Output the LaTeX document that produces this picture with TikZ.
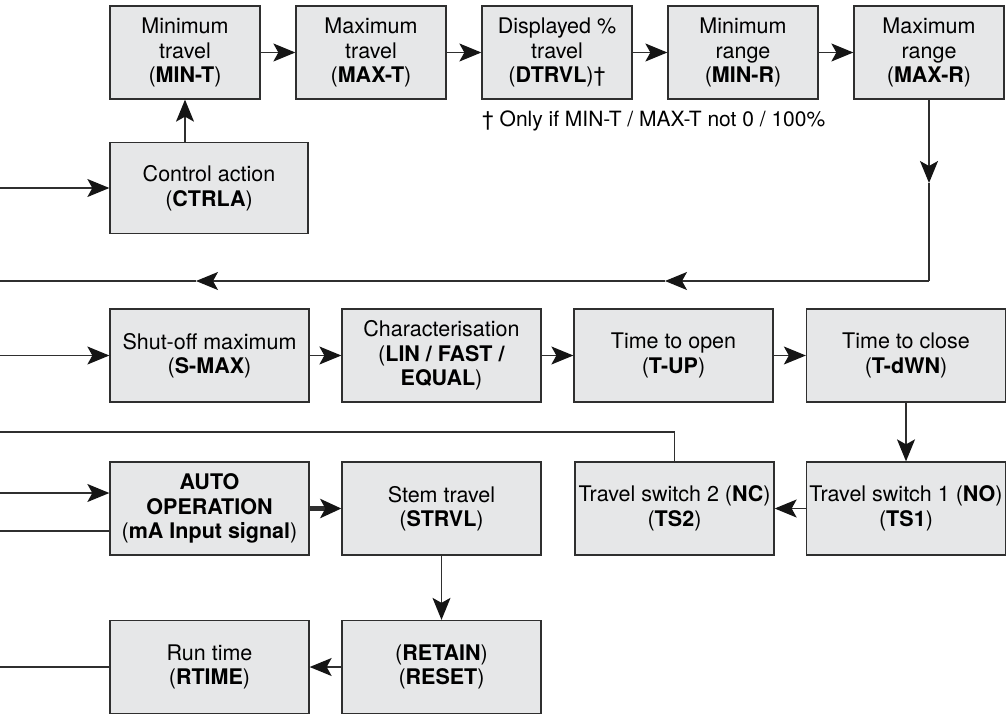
\documentclass[tikz,border=0pt]{standalone}
\usepackage{fontspec}
\setmainfont{TeX Gyre Heros}
\usetikzlibrary{arrows.meta}
\definecolor{boxfill}{HTML}{E6E7E8}
\definecolor{linec}{HTML}{2F2F2F}
\definecolor{headc}{HTML}{151515}
\begin{document}
\begin{tikzpicture}[x=1pt,y=-1pt,
  ln/.style={draw=linec, line width=1.3pt},
  base/.style={draw=linec, fill=boxfill, line width=1.3pt, align=center, inner sep=0pt,
    font=\fontsize{21.5}{24.5}\selectfont, minimum height=93pt},
  sbox/.style={base, minimum width=150pt},
  wbox/.style={base, minimum width=199pt},
  arr/.style={ln, -{Stealth[length=22pt,width=18pt,inset=5pt,headc]}},
  thick arr/.style={draw=linec, line width=4.5pt, -{Stealth[length=21pt,width=19pt,inset=5pt,headc]}}]
\useasboundingbox (0,0) rectangle (1008,715);

% top row
\node[sbox] (mint) at (185,52.5) {Minimum\\travel\\(\textbf{MIN-T})};
\node[sbox] (maxt) at (371,52.5) {Maximum\\travel\\(\textbf{MAX-T})};
\node[sbox] (dtrvl) at (557,52.5) {Displayed \%\\travel\\(\textbf{DTRVL})\textdagger};
\node[sbox] (minr) at (743,52.5) {Minimum\\range\\(\textbf{MIN-R})};
\node[sbox] (maxr) at (929,52.5) {Maximum\\range\\(\textbf{MAX-R})};
\node[anchor=west, inner sep=0pt, font=\fontsize{21}{24.5}\selectfont] (fn) at (482,121)
  {\textdagger{} Only if MIN-T / MAX-T not 0 / 100\%};

\node[wbox, minimum width=198pt, minimum height=91pt] (ctrla) at (209,188) {Control action\\(\textbf{CTRLA})};

% row 2
\node[wbox] (smax) at (209.5,355.5) {Shut-off maximum\\(\textbf{S-MAX})};
\node[wbox] (char) at (441.5,355.5) {Characterisation\\(\textbf{LIN / FAST /}\\\textbf{EQUAL})};
\node[wbox] (tup) at (673.5,355.5) {Time to open\\(\textbf{T-UP})};
\node[wbox] (tdwn) at (906,355.5) {Time to close\\(\textbf{T-dWN})};

% row 3
\node[wbox] (auto) at (209.5,508.5) {\textbf{AUTO}\\\textbf{OPERATION}\\(\textbf{mA Input signal})};
\node[wbox] (strvl) at (441.5,508.5) {Stem travel\\(\textbf{STRVL})};
\node[wbox] (ts2) at (674.5,508.5) {Travel switch 2 (\textbf{NC})\\(\textbf{TS2})};
\node[wbox] (ts1) at (906,508.5) {Travel switch 1 (\textbf{NO})\\(\textbf{TS1})};

% row 4
\node[wbox] (rtime) at (209.5,667) {Run time\\(\textbf{RTIME})};
\node[wbox] (retain) at (441.5,667) {(\textbf{RETAIN})\\(\textbf{RESET})};

% coordinates
\coordinate (a1) at (929,183);
\coordinate (c1) at (929,281);
\coordinate (m1) at (665,281);
\coordinate (m2) at (196,281);
\coordinate (e1) at (0,281);
\coordinate (l1) at (0,188);
\coordinate (l2) at (0,355.5);
\coordinate (l3) at (0,493);
\coordinate (l4) at (0,531);
\coordinate (l5) at (0,432);
\coordinate (l6) at (0,667);

% connectors
\draw[arr] (mint) -- (maxt);
\draw[arr] (maxt) -- (dtrvl);
\draw[arr] (dtrvl) -- (minr);
\draw[arr] (minr) -- (maxr);
\draw[arr] (ctrla.north -| mint.south) -- (mint.south);
\draw[arr] (l1) -- (ctrla.west);
\draw[arr] (maxr.south) -- (a1);
\draw[ln] (a1) -- (c1);
\draw[arr] (c1) -- (m1);
\draw[arr] (m1) -- (m2);
\draw[ln] (m2) -- (e1);

\draw[arr] (l2) -- (smax.west);
\draw[arr] (smax) -- (char);
\draw[arr] (char) -- (tup);
\draw[arr] (tup) -- (tdwn);
\draw[arr] (tdwn) -- (ts1);
\draw[arr] (ts1) -- (ts2);
\draw[ln] (ts2.north) |- (l5);

\draw[arr] (l3) -- (l3 -| auto.west);
\draw[ln] (l4 -| auto.west) -- (l4);
\draw[thick arr] (auto) -- (strvl);
\draw[arr] (strvl) -- (retain);
\draw[arr] (retain) -- (rtime);
\draw[ln] (rtime.west) -- (l6);
\end{tikzpicture}
\end{document}
